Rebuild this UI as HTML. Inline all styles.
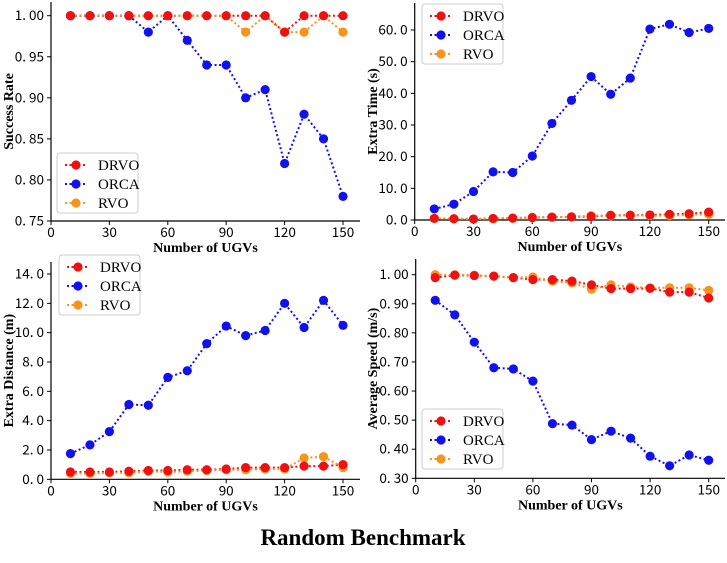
<!DOCTYPE html>
<html><head><meta charset="utf-8"><style>
body{margin:0;background:#fff;width:727px;height:563px;overflow:hidden}
svg{display:block}
.tk{font-family:"WenQuanYi Zen Hei","Noto Sans CJK SC","Liberation Sans",sans-serif;font-size:13.5px;fill:#000}
.lb{font-family:"Liberation Serif",serif;font-weight:bold;font-size:14px;fill:#000}
.lg{font-family:"Liberation Serif",serif;font-size:15px;fill:#000}
</style></head><body>
<svg id="c" width="727" height="563">
<text x="363" y="545" text-anchor="middle" font-family="Liberation Serif,serif" font-weight="bold" font-size="23">Random Benchmark</text>
</svg>
<script>
const xs=[10,20,30,40,50,60,70,80,90,100,110,120,130,140,150];
const xTicks=[0,30,60,90,120,150];
const sr_drvo=[1,1,1,1,1,1,1,1,1,1,1,0.98,1,1,1];
const sr_orca=[1,1,1,1,0.98,1,0.97,0.94,0.94,0.90,0.91,0.82,0.88,0.85,0.78];
const sr_rvo=[1,1,1,1,1,1,1,1,1,0.98,1,0.98,0.98,1,0.98];
const sr_ticks=[0.75,0.80,0.85,0.90,0.95,1.00];
const et_drvo=[0.5,0.4,0.3,0.5,0.6,0.8,0.9,1.0,1.1,1.5,1.5,1.6,1.8,2.0,2.5];
const et_orca=[3.5,5,9,15.2,15,20.2,30.5,37.8,45.3,39.7,44.8,60.3,61.8,59.2,60.5];
const et_rvo=[0.5,0.4,0.3,0.4,0.6,0.7,0.9,1.0,1.4,1.3,1.5,1.4,1.4,1.6,1.8];
const et_ticks=[0,10,20,30,40,50,60];
const ed_drvo=[0.5,0.5,0.5,0.55,0.6,0.6,0.65,0.65,0.7,0.8,0.8,0.8,0.9,0.9,1.0];
const ed_orca=[1.75,2.35,3.25,5.1,5.05,6.95,7.4,9.25,10.45,9.8,10.15,12.0,10.35,12.2,10.5];
const ed_rvo=[0.4,0.4,0.45,0.45,0.55,0.5,0.55,0.6,0.65,0.65,0.7,0.7,1.45,1.55,0.8];
const ed_ticks=[0,2,4,6,8,10,12,14];
const as_drvo=[0.99,0.998,0.997,0.995,0.99,0.983,0.983,0.978,0.965,0.952,0.952,0.953,0.94,0.94,0.92];
const as_orca=[0.912,0.862,0.768,0.68,0.676,0.634,0.488,0.483,0.433,0.462,0.438,0.376,0.343,0.38,0.362];
const as_rvo=[1.0,1.0,0.998,0.995,0.99,0.992,0.978,0.972,0.95,0.965,0.958,0.955,0.955,0.955,0.946];
const as_ticks=[0.30,0.40,0.50,0.60,0.70,0.80,0.90,1.00];
const names=['DRVO','ORCA','RVO'];
const cols=['#ee1111','#1111ee','#f7941d'];
const NS='http://www.w3.org/2000/svg';
const svg=document.getElementById('c');
function mk(t,a,p){const e=document.createElementNS(NS,t);for(const k in a)e.setAttribute(k,a[k]);(p||svg).appendChild(e);return e;}
function fmtT(v,d){const s=v.toFixed(d);return s.replace('.','. ');}
function panel(o){
 const g=mk('g',{});
 
 
 const X=v=>o.x0+(v-0)*(o.x150-o.x0)/150;
 const Y=v=>o.yb-(v-o.ymin)*(o.yb-o.yt)/(o.ymax-o.ymin);
 mk('line',{x1:o.x0,y1:o.top,x2:o.x0,y2:o.yb,stroke:'#000','stroke-width':1.2},g);
 mk('line',{x1:o.x0,y1:o.yb,x2:o.right,y2:o.yb,stroke:'#000','stroke-width':1.2},g);
 xTicks.forEach(t=>{mk('line',{x1:X(t),y1:o.yb,x2:X(t),y2:o.yb+4,stroke:'#000'},g);
  const tx=mk('text',{x:X(t),y:o.yb+16,'text-anchor':'middle',class:'tk'},g);tx.textContent=t;
  
  });
 o.ticks.forEach(t=>{mk('line',{x1:o.x0-4,y1:Y(t),x2:o.x0,y2:Y(t),stroke:'#000'},g);
  const tx=mk('text',{x:o.x0-7,y:Y(t)+4.5,'text-anchor':'end',class:'tk'},g);tx.textContent=fmtT(t,o.dec);
  
  });
 const xl=mk('text',{x:(o.x0+o.right)/2,y:o.yb+31,'text-anchor':'middle',class:'lb'},g);xl.textContent='Number of UGVs';
 
 
 const yl=mk('text',{x:0,y:0,'text-anchor':'middle',class:'lb',transform:`translate(${o.ylx},${(o.top+o.yb)/2}) rotate(-90)`},g);yl.textContent=o.ylabel;
 
 
 o.series.forEach((s,i)=>{
  const pts=xs.map((x,j)=>X(x)+','+Y(s[j])).join(' ');
  const pl=mk('polyline',{points:pts,fill:'none',stroke:cols[i],'stroke-width':2,'stroke-dasharray':'2,2.5'},g);
  
  
 });
 [2,1,0].forEach(i=>{const s=o.series[i];xs.forEach((x,j)=>{
  const c=mk('circle',{cx:X(x),cy:Y(s[j]),r:4.6,fill:cols[i]},g);
  
  });});
 const L=o.leg;
 const lg=mk('g',{},g);
 
 
 mk('rect',{x:L[0],y:L[1],width:81,height:60,rx:3,fill:'#fff','fill-opacity':0.85,stroke:'#ccc'},lg);
 names.forEach((n,i)=>{const y=L[1]+12+i*19;
  mk('line',{x1:L[0]+8,y1:y,x2:L[0]+30,y2:y,stroke:cols[i],'stroke-width':2,'stroke-dasharray':'2,2.5'},lg);
  mk('circle',{cx:L[0]+19,cy:y,r:4.6,fill:cols[i]},lg);
  const t=mk('text',{x:L[0]+41,y:y+5,class:'lg'},lg);t.textContent=n;
  
  });
}
panel({name:'success-rate-chart',x0:51,x150:343,right:360,top:2,yb:221,yt:15.7,ymin:0.75,ymax:1.0,ticks:sr_ticks,dec:2,ylabel:'Success Rate',ylx:13,series:[sr_drvo,sr_orca,sr_rvo],leg:[57,153]});
panel({name:'extra-time-chart',x0:414.7,x150:708.7,right:725,top:3,yb:220,yt:30,ymin:0,ymax:60,ticks:et_ticks,dec:1,ylabel:'Extra Time (s)',ylx:377,series:[et_drvo,et_orca,et_rvo],leg:[422,4]});
panel({name:'extra-distance-chart',x0:51,x150:343,right:360,top:262,yb:479.3,yt:274,ymin:0,ymax:14,ticks:ed_ticks,dec:1,ylabel:'Extra Distance (m)',ylx:13,series:[ed_drvo,ed_orca,ed_rvo],leg:[59,255]});
panel({name:'average-speed-chart',x0:415.7,x150:708.7,right:725,top:259,yb:478.3,yt:274.7,ymin:0.30,ymax:1.0,ticks:as_ticks,dec:2,ylabel:'Average Speed (m/s)',ylx:377,series:[as_drvo,as_orca,as_rvo],leg:[422,409]});
</script>
</body></html>
